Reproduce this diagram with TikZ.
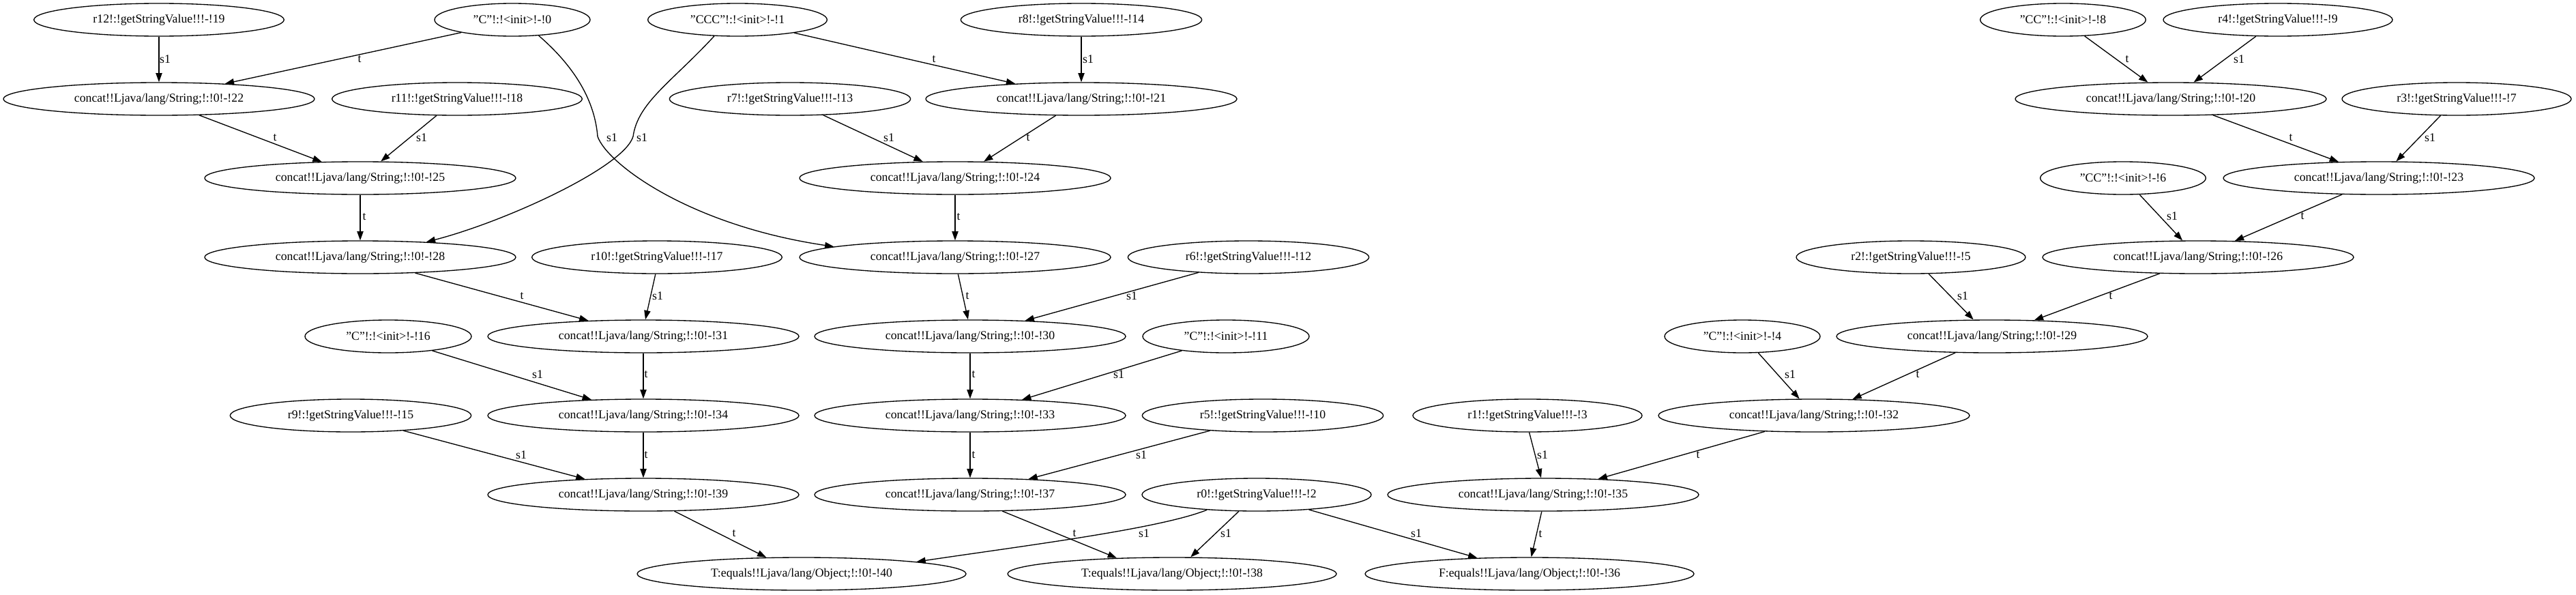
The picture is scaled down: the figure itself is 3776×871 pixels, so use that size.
\documentclass[tikz,border=0pt]{standalone}
\usepackage{fontspec}
\setmainfont{Liberation Serif}
\usetikzlibrary{shapes.geometric,arrows.meta}
\newcommand\gvt[1]{\makebox[0pt]{#1}}
\begin{document}
\begin{tikzpicture}[x=0.75pt,y=-0.75pt,
  gv/.style={draw, ellipse, line width=1pt, minimum height=36pt, inner sep=0pt, font=\fontsize{13.3}{16}\selectfont},
  wcat/.style={gv, minimum width=342pt},
  weq/.style={gv, minimum width=361.5pt},
  wrb/.style={gv, minimum width=275pt},
  wrm/.style={gv, minimum width=265pt},
  wrs/.style={gv, minimum width=252pt},
  wcs/.style={gv, minimum width=171pt},
  wcm/.style={gv, minimum width=183pt},
  wcc/.style={gv, minimum width=182pt},
  wccc/.style={gv, minimum width=197pt},
  e/.style={draw, line width=1pt, -{Triangle[length=10pt,width=7pt]}},
  lb/.style={font=\fontsize{13.3}{16}\selectfont, inner sep=0pt}]
\useasboundingbox (0,0) rectangle (3776,871);
% row 1
\node[wrb] (n19) at (233,29) {\gvt{r12!:!getStringValue!!!-!19}};
\node[wcs] (n0) at (751,29) {\gvt{"C"!:!<init>!-!0}};
\node[wccc] (n1) at (1081,29) {\gvt{"CCC"!:!<init>!-!1}};
\node[wrm] (n14) at (1585,29) {\gvt{r8!:!getStringValue!!!-!14}};
\node[wcc] (n8) at (3024,29) {\gvt{"CC"!:!<init>!-!8}};
\node[wrs] (n9) at (3339,29) {\gvt{r4!:!getStringValue!!!-!9}};
% row 2
\node[wcat] (n22) at (233,145) {\gvt{concat!!Ljava/lang/String;!:!0!-!22}};
\node[wrb] (n18) at (670,145) {\gvt{r11!:!getStringValue!!!-!18}};
\node[wrm] (n13) at (1158,145) {\gvt{r7!:!getStringValue!!!-!13}};
\node[wcat] (n21) at (1585,145) {\gvt{concat!!Ljava/lang/String;!:!0!-!21}};
\node[wcat] (n20) at (3182,145) {\gvt{concat!!Ljava/lang/String;!:!0!-!20}};
\node[wrs] (n7) at (3601,145) {\gvt{r3!:!getStringValue!!!-!7}};
% row 3
\node[wcat] (n25) at (528,261) {\gvt{concat!!Ljava/lang/String;!:!0!-!25}};
\node[wcat] (n24) at (1400,261) {\gvt{concat!!Ljava/lang/String;!:!0!-!24}};
\node[wcc] (n6) at (3112,261) {\gvt{"CC"!:!<init>!-!6}};
\node[wcat] (n23) at (3487,261) {\gvt{concat!!Ljava/lang/String;!:!0!-!23}};
% row 4
\node[wcat] (n28) at (528,377) {\gvt{concat!!Ljava/lang/String;!:!0!-!28}};
\node[wrb] (n17) at (963,377) {\gvt{r10!:!getStringValue!!!-!17}};
\node[wcat] (n27) at (1400,377) {\gvt{concat!!Ljava/lang/String;!:!0!-!27}};
\node[wrm] (n12) at (1830,377) {\gvt{r6!:!getStringValue!!!-!12}};
\node[wrs] (n5) at (2801,377) {\gvt{r2!:!getStringValue!!!-!5}};
\node[wcat] (n26) at (3222,377) {\gvt{concat!!Ljava/lang/String;!:!0!-!26}};
% row 5
\node[wcm] (n16) at (569,493) {\gvt{"C"!:!<init>!-!16}};
\node[wcat] (n31) at (943,493) {\gvt{concat!!Ljava/lang/String;!:!0!-!31}};
\node[wcat] (n30) at (1422,493) {\gvt{concat!!Ljava/lang/String;!:!0!-!30}};
\node[wcm] (n11) at (1797,493) {\gvt{"C"!:!<init>!-!11}};
\node[wcs] (n4) at (2554,493) {\gvt{"C"!:!<init>!-!4}};
\node[wcat] (n29) at (2920,493) {\gvt{concat!!Ljava/lang/String;!:!0!-!29}};
% row 6
\node[wrm] (n15) at (514,609) {\gvt{r9!:!getStringValue!!!-!15}};
\node[wcat] (n34) at (943,609) {\gvt{concat!!Ljava/lang/String;!:!0!-!34}};
\node[wcat] (n33) at (1422,609) {\gvt{concat!!Ljava/lang/String;!:!0!-!33}};
\node[wrm] (n10) at (1851,609) {\gvt{r5!:!getStringValue!!!-!10}};
\node[wrs] (n3) at (2239,609) {\gvt{r1!:!getStringValue!!!-!3}};
\node[wcat] (n32) at (2659,609) {\gvt{concat!!Ljava/lang/String;!:!0!-!32}};
% row 7
\node[wcat] (n39) at (943,725) {\gvt{concat!!Ljava/lang/String;!:!0!-!39}};
\node[wcat] (n37) at (1422,725) {\gvt{concat!!Ljava/lang/String;!:!0!-!37}};
\node[wrs] (n2) at (1842,725) {\gvt{r0!:!getStringValue!!!-!2}};
\node[wcat] (n35) at (2262,725) {\gvt{concat!!Ljava/lang/String;!:!0!-!35}};
% row 8
\node[weq] (n40) at (1175,841) {\gvt{T:equals!!Ljava/lang/Object;!:!0!-!40}};
\node[weq] (n38) at (1718,841) {\gvt{T:equals!!Ljava/lang/Object;!:!0!-!38}};
\node[weq] (n36) at (2242,841) {\gvt{F:equals!!Ljava/lang/Object;!:!0!-!36}};
% edges
\draw[e] (n19.south) -- (n22.north);
\draw[e] (n0.194) -- (n22.13);
\draw[e] (n0.-31) .. controls (845,100) and (872,150) .. (876,200) .. controls (890,240) and (1010,330) .. (n27.175);
\draw[e] (n1.215) .. controls (985,120) and (935,150) .. (928,200) .. controls (915,245) and (740,325) .. (n28.13);
\draw[e] (n1.-13) -- (n21.167);
\draw[e] (n14.south) -- (n21.north);
\draw[e] (n22.-22) -- (n25.157);
\draw[e] (n18.219) -- (n25.39);
\draw[e] (n13.-26) -- (n24.153);
\draw[e] (n21.213) -- (n24.30);
\draw[e] (n25.south) -- (n28.north);
\draw[e] (n24.south) -- (n27.north);
\draw[e] (n28.-16) -- (n31.164);
\draw[e] (n17.-95) -- (n31.83);
\draw[e] (n27.-80) -- (n30.97);
\draw[e] (n12.197) -- (n30.16);
\draw[e] (n16.-18) -- (n34.163);
\draw[e] (n31.south) -- (n34.north);
\draw[e] (n30.south) -- (n33.north);
\draw[e] (n11.198) -- (n33.17);
\draw[e] (n15.-16) -- (n39.165);
\draw[e] (n34.south) -- (n39.north);
\draw[e] (n33.south) -- (n37.north);
\draw[e] (n10.196) -- (n37.15);
\draw[e] (n39.-28) -- (n40.155);
\draw[e] (n37.-27) -- (n38.164);
\draw[e] (n2.197) .. controls (1700,775) and (1500,800) .. (n40.6);
\draw[e] (n2.223) -- (n38.42);
\draw[e] (n2.-16) -- (n36.163);
\draw[e] (n3.-84) -- (n35.97);
\draw[e] (n32.198) -- (n35.16);
\draw[e] (n35.-95) -- (n36.84);
\draw[e] (n8.-37) -- (n20.144);
\draw[e] (n9.217) -- (n20.36);
\draw[e] (n20.-21) -- (n23.158);
\draw[e] (n7.226) -- (n23.44);
\draw[e] (n6.-45) -- (n26.133);
\draw[e] (n23.204) -- (n26.24);
\draw[e] (n5.-43) -- (n29.138);
\draw[e] (n26.203) -- (n29.21);
\draw[e] (n4.-46) -- (n32.131);
\draw[e] (n29.204) -- (n32.23);
% labels
\node[lb] (l1) at (242,87) {s1};
\node[lb] (l2) at (527,87) {t};
\node[lb] (l3) at (897,202) {s1};
\node[lb] (l4) at (941,202) {s1};
\node[lb] (l5) at (1369,87) {t};
\node[lb] (l6) at (1595,87) {s1};
\node[lb] (l7) at (403,202) {t};
\node[lb] (l8) at (618,202) {s1};
\node[lb] (l9) at (1303,202) {s1};
\node[lb] (l10) at (1507,202) {t};
\node[lb] (l11) at (534,318) {t};
\node[lb] (l12) at (1405,318) {t};
\node[lb] (l13) at (765,434) {t};
\node[lb] (l14) at (964,434) {s1};
\node[lb] (l15) at (1418,434) {t};
\node[lb] (l16) at (1659,434) {s1};
\node[lb] (l17) at (788,549) {s1};
\node[lb] (l18) at (947,549) {t};
\node[lb] (l19) at (1427,549) {t};
\node[lb] (l20) at (1640,549) {s1};
\node[lb] (l21) at (764,667) {s1};
\node[lb] (l22) at (947,667) {t};
\node[lb] (l23) at (1427,667) {t};
\node[lb] (l24) at (1673,667) {s1};
\node[lb] (l25) at (1076,782) {t};
\node[lb] (l26) at (1575,782) {t};
\node[lb] (l27) at (1677,782) {s1};
\node[lb] (l28) at (1797,782) {s1};
\node[lb] (l29) at (2076,782) {s1};
\node[lb] (l30) at (2261,667) {s1};
\node[lb] (l31) at (2489,667) {t};
\node[lb] (l32) at (2258,783) {t};
\node[lb] (l33) at (3118,87) {t};
\node[lb] (l34) at (3282,87) {s1};
\node[lb] (l35) at (3358,202) {t};
\node[lb] (l36) at (3562,202) {s1};
\node[lb] (l37) at (3184,317) {s1};
\node[lb] (l38) at (3375,317) {t};
\node[lb] (l39) at (2877,434) {s1};
\node[lb] (l40) at (3094,434) {t};
\node[lb] (l41) at (2624,549) {s1};
\node[lb] (l42) at (2811,549) {t};
\end{tikzpicture}
\end{document}
